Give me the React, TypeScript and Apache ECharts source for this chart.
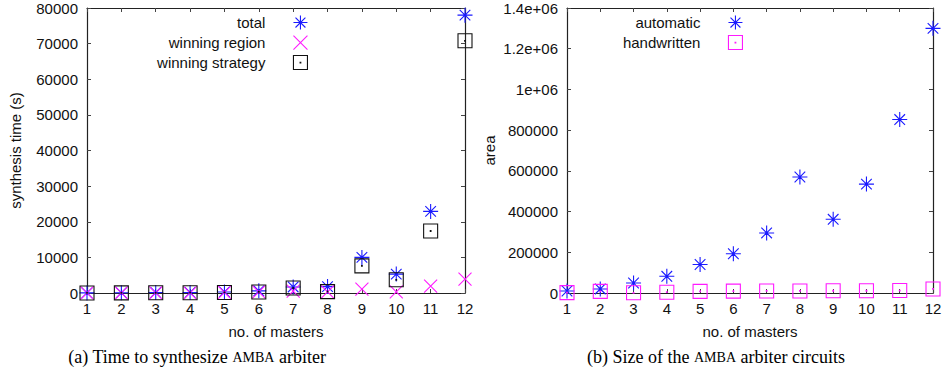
import { useEffect, useRef } from 'react';
import * as echarts from 'echarts';

// ---- data ----
const masters = [1, 2, 3, 4, 5, 6, 7, 8, 9, 10, 11, 12];
const totalTime = [30, 60, 120, 150, 300, 600, 1700, 1800, 10000, 5300, 22900, 78000];
const winningRegionTime = [10, 20, 40, 60, 150, 300, 550, 300, 1100, 300, 1900, 3900];
const winningStrategyTime = [10, 30, 60, 80, 150, 300, 1400, 400, 7600, 3700, 17400, 70800];
const automaticArea = [10000, 20000, 49000, 82000, 140000, 193000, 295000, 570000, 362000, 535000, 852000, 1300000];
const handwrittenArea = [2000, 8000, 1000, 4000, 8000, 9000, 10000, 10000, 11000, 11000, 12000, 20000];
const areaTickLabels = ['0', '200000', '400000', '600000', '800000', '1e+06', '1.2e+06', '1.4e+06'];

const STAR = 'path://M5 0L5 10M0 5L10 5M1.46 1.46L8.54 8.54M1.46 8.54L8.54 1.46M4.6 4.6L5.4 4.6L5.4 5.4L4.6 5.4Z';
const CROSS = 'path://M0 0L10 10M0 10L10 0';
const SQUARE = 'path://M0 0L10 0L10 10L0 10ZM4.75 4.75L5.25 4.75L5.25 5.25L4.75 5.25Z';

const BLUE = '#1a1aff';
const MAGENTA = '#ff1aff';
const BLACK = '#111111';
const FONT = 'Liberation Sans, Arial, Helvetica, sans-serif';
const SERIF = 'Liberation Serif, Times New Roman, serif';

function pairs(ys: number[]) {
  return masters.map((m, i) => [m, ys[i]]);
}

function mkSeries(name: string, ys: number[], symbol: string, color: string, gi: number, size: number) {
  return {
    type: 'scatter',
    name,
    data: pairs(ys),
    xAxisIndex: gi * 2,
    yAxisIndex: gi * 2,
    symbol,
    symbolSize: size,
    itemStyle: { color: 'transparent', borderColor: color, borderWidth: 1.1, opacity: 1 },
    emphasis: { disabled: true },
  };
}

function mkLegend(name: string, symbol: string, color: string, right: number, top: number) {
  return {
    data: [{ name, icon: symbol }],
    right,
    top,
    orient: 'vertical',
    align: 'right',
    itemWidth: 60,
    itemHeight: 14,
    padding: 0,
    selectedMode: false,
    textStyle: { fontSize: 15, fontFamily: FONT, color: '#111' },
    itemStyle: { color: 'transparent', borderColor: color, borderWidth: 1.1 },
  };
}

const axisLine = { show: true, lineStyle: { color: '#222', width: 1.2 } };
const tick = { show: true, inside: true, length: 4, lineStyle: { color: '#444', width: 1 } };
const labelStyle = { fontSize: 15, fontFamily: FONT, color: '#111' };

function xAxes(gi: number) {
  return [
    {
      type: 'value', gridIndex: gi, min: 1, max: 12, interval: 1, position: 'bottom',
      name: 'no. of masters', nameLocation: 'middle', nameGap: 31,
      nameTextStyle: { ...labelStyle },
      axisLine: { ...axisLine, onZero: false }, axisTick: tick,
      axisLabel: { ...labelStyle, margin: 8 }, splitLine: { show: false },
    },
    {
      type: 'value', gridIndex: gi, min: 1, max: 12, interval: 1, position: 'top',
      axisLine: { ...axisLine, onZero: false }, axisTick: tick,
      axisLabel: { show: false }, splitLine: { show: false },
    },
  ];
}

function yAxes(gi: number, max: number, interval: number, name: string, nameGap: number, formatter: (v: number) => string) {
  return [
    {
      type: 'value', gridIndex: gi, min: 0, max, interval, position: 'left',
      name, nameLocation: 'middle', nameGap,
      nameTextStyle: { ...labelStyle },
      axisLine: { ...axisLine, onZero: false }, axisTick: tick,
      axisLabel: { ...labelStyle, margin: 9, formatter }, splitLine: { show: false },
    },
    {
      type: 'value', gridIndex: gi, min: 0, max, interval, position: 'right',
      axisLine: { ...axisLine, onZero: false }, axisTick: tick,
      axisLabel: { show: false }, splitLine: { show: false },
    },
  ];
}

export default function App() {
  const ref = useRef<HTMLDivElement>(null);
  useEffect(() => {
    if (!ref.current) return;
    const chart = echarts.init(ref.current, undefined, { renderer: 'svg' });
    const option = {
      animation: false,
      backgroundColor: '#ffffff',
      grid: [
        { left: 87, top: 8, width: 378, height: 285 },
        { left: 567, top: 8, width: 366, height: 285 },
      ],
      xAxis: [...xAxes(0), ...xAxes(1)],
      yAxis: [
        ...yAxes(0, 80000, 10000, 'synthesis time (s)', 64, (v: number) => String(v)),
        ...yAxes(1, 1400000, 200000, 'area', 70, (v: number) => areaTickLabels[Math.round(v / 200000)]),
      ],
      legend: [
        mkLegend('total', STAR, BLUE, 638, 15),
        mkLegend('winning region', CROSS, MAGENTA, 638, 35),
        mkLegend('winning strategy', SQUARE, BLACK, 638, 55),
        mkLegend('automatic', STAR, BLUE, 203, 15),
        mkLegend('handwritten', SQUARE, MAGENTA, 203, 35),
      ],
      series: [
        mkSeries('total', totalTime, STAR, BLUE, 0, 15),
        mkSeries('winning region', winningRegionTime, CROSS, MAGENTA, 0, 13),
        mkSeries('winning strategy', winningStrategyTime, SQUARE, BLACK, 0, 14),
        mkSeries('automatic', automaticArea, STAR, BLUE, 1, 15),
        mkSeries('handwritten', handwrittenArea, SQUARE, MAGENTA, 1, 14),
      ],
      graphic: [
        {
          type: 'text',
          style: {
            text: '(a) Time to synthesize {sc|AMBA} arbiter',
            x: 197, y: 357,
            fontSize: 18, fontFamily: SERIF, fill: '#000',
            align: 'center', verticalAlign: 'middle',
            rich: { sc: { fontSize: 14, fontFamily: SERIF, fill: '#000' } },
          },
        },
        {
          type: 'text',
          style: {
            text: '(b) Size of the {sc|AMBA} arbiter circuits',
            x: 716, y: 357,
            fontSize: 18, fontFamily: SERIF, fill: '#000',
            align: 'center', verticalAlign: 'middle',
            rich: { sc: { fontSize: 14, fontFamily: SERIF, fill: '#000' } },
          },
        },
      ],
    };
    chart.setOption(option as any);
    return () => chart.dispose();
  }, []);
  return (
    <div
      ref={ref}
      style={{ position: 'fixed', left: 0, top: 0, width: 946, height: 386, background: '#fff' }}
    />
  );
}
